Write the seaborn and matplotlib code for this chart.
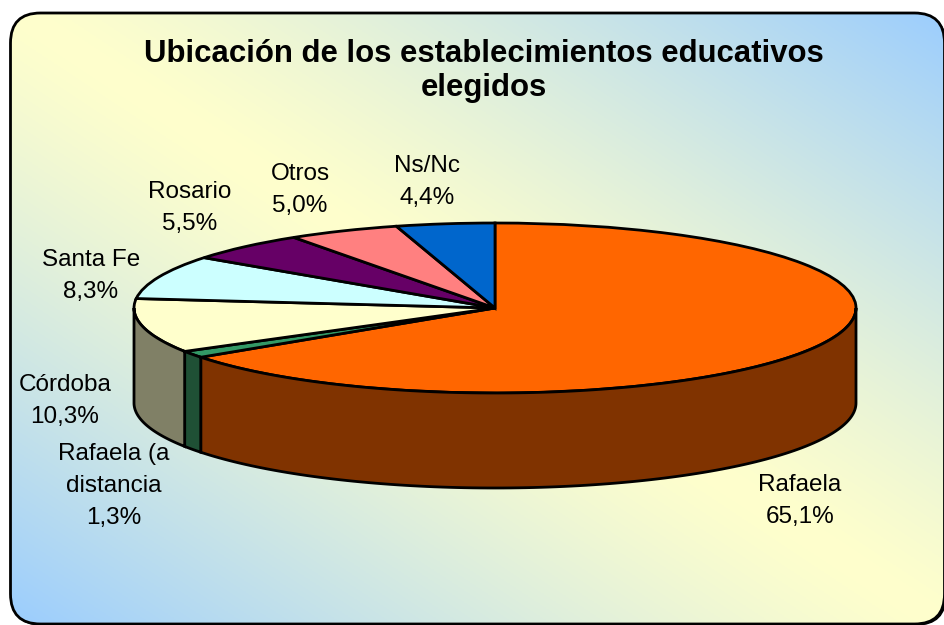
import numpy as np
import matplotlib
matplotlib.use("Agg")
import matplotlib.pyplot as plt
import seaborn as sns
from matplotlib.colors import to_rgb
from matplotlib.patches import FancyBboxPatch

names = ["Rafaela", "Rafaela (a\ndistancia", "Córdoba", "Santa Fe", "Rosario", "Otros", "Ns/Nc"]
values = [65.1, 1.3, 10.3, 8.3, 5.5, 5.0, 4.4]
top_colors = ["#FF6600", "#339966", "#FFFFCC", "#CCFFFF", "#660066", "#FF8080", "#0066CC"]
side_colors = ["#803300", "#1F5035", "#808066", "#668080", "#330033", "#804040", "#003366"]
title = "Ubicación de los establecimientos educativos\nelegidos"

# label centres in pixels
label_pos = [(800, 501), (114, 486), (65, 401), (91, 276), (190, 208), (300, 190), (427, 182)]

W, H = 944, 625
cx, cy, rx, ry, depth = 495, 308, 361, 85, 95

sns.set_theme(style="white")
plt.rcParams["font.family"] = ["Liberation Sans", "DejaVu Sans"]

fig = plt.figure(figsize=(W / 100, H / 100), dpi=100)
bg = fig.add_axes([0, 0, 1, 1])
bg.set_xlim(0, W)
bg.set_ylim(H, 0)
bg.axis("off")

# diagonal fill: blue in the top right and bottom left corners, yellow in between
xx, yy = np.meshgrid(np.linspace(0, 1, 472), np.linspace(0, 1, 313))
t = (np.abs(xx - yy) ** 1.25)[..., None]
blue, yellow = np.array(to_rgb("#99CCFF")), np.array(to_rgb("#FFFFCC"))
img = bg.imshow(yellow + t * (blue - yellow), extent=(0, W, H, 0), aspect="auto", zorder=1)

shadow = FancyBboxPatch((12, 15), 934, 610, boxstyle="round,pad=0,rounding_size=30",
                        fc="black", ec="black", lw=1, zorder=0.5)
bg.add_patch(shadow)
box = FancyBboxPatch((10.5, 13), 934, 611, boxstyle="round,pad=0,rounding_size=30",
                     fc="none", ec="black", lw=2, zorder=2)
bg.add_patch(box)
img.set_clip_path(box)

# pie axes, unit circle squeezed to the ellipse, extra room below for the side
d = depth / ry
ax = fig.add_axes([(cx - rx) / W, 1 - (cy + ry + depth) / H, 2 * rx / W, (2 * ry + depth) / H])
ax.patch.set_alpha(0)

colors = sns.color_palette(top_colors)
ax.pie(values, colors=colors, startangle=90, counterclock=False, radius=1,
       wedgeprops=dict(edgecolor="black", linewidth=2, clip_on=False))
ax.set_aspect("auto")
ax.set_xlim(-1, 1)
ax.set_ylim(-1 - d, 1)
ax.axis("off")

# side wall for the part of each slice facing the viewer
edges = np.cumsum([0] + values) / sum(values) * 2 * np.pi
for i in range(len(values)):
    a0, a1 = max(edges[i], np.pi / 2), min(edges[i + 1], 3 * np.pi / 2)
    if a1 <= a0:
        continue
    th = np.linspace(a0, a1, 120)
    x, y = np.sin(th), np.cos(th)
    ax.fill(np.r_[x, x[::-1]], np.r_[y, y[::-1] - d], fc=side_colors[i], ec="black",
            lw=2, clip_on=False, zorder=3)

for name, val, (px, py) in zip(names, values, label_pos):
    label = f"{name}\n{val:.1f}%".replace(".", ",")
    bg.text(px, py, label, ha="center", va="center", fontsize=17.5, color="black",
            linespacing=1.6, zorder=5)

bg.text(484, 71, title, ha="center", va="center", fontsize=22.4, fontweight="bold",
        color="black", linespacing=1.21, zorder=5)
bg.set_zorder(0)
ax.set_zorder(1)

fig.savefig("out.png", dpi=100)
